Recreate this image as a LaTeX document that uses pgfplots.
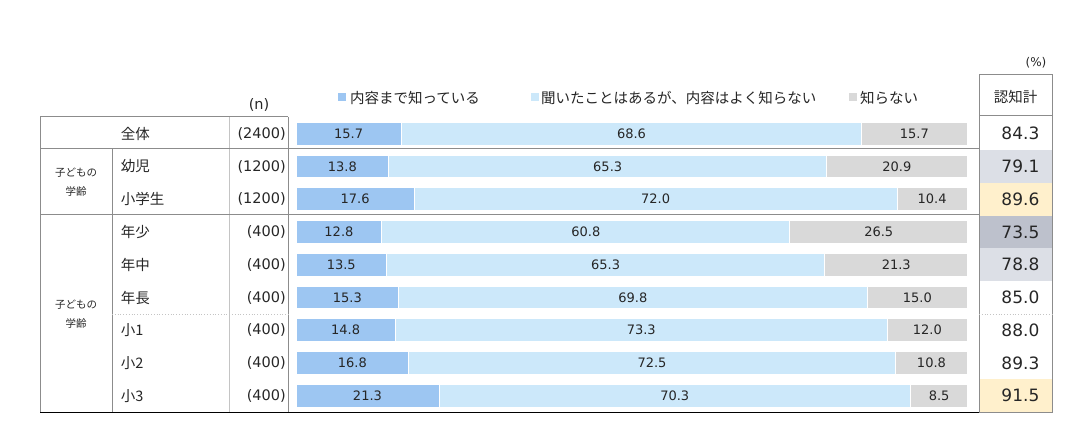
\documentclass[border=0pt]{standalone}
\usepackage{pgfplots}
\usepackage{pgfplotstable}
\pgfplotsset{compat=1.18}
\usepackage{fontspec}
\setmainfont{DejaVu Sans}
\newfontfamily\jp{Noto Sans CJK JP}

\definecolor{c1}{HTML}{9DC6F2}
\definecolor{c2}{HTML}{CCE8FA}
\definecolor{c3}{HTML}{D9D9D9}
\definecolor{g1}{HTML}{DCDFE6}
\definecolor{g2}{HTML}{BDC1CC}
\definecolor{yl}{HTML}{FFF0CC}
\definecolor{txt}{HTML}{262626}
\definecolor{ln}{HTML}{8C8C8C}
\definecolor{ln2}{HTML}{C4C4C4}

\newcommand\jpf{\jp\fontsize{14.5bp}{17bp}\selectfont}
\newcommand\jps{\jp\fontsize{10.5bp}{18.5bp}\selectfont}
\newcommand\numf{\fontsize{14.5bp}{17bp}\selectfont}

% r = row, a = 内容まで知っている, b = 聞いたことはあるが..., c = 知らない, t = 認知計
\pgfplotstableread{
r a b c t
1 15.7 68.6 15.7 84.3
2 13.8 65.3 20.9 79.1
3 17.6 72.0 10.4 89.6
4 12.8 60.8 26.5 73.5
5 13.5 65.3 21.3 78.8
6 15.3 69.8 15.0 85.0
7 14.8 73.3 12.0 88.0
8 16.8 72.5 10.8 89.3
9 21.3 70.3 8.5 91.5
}\data

\pgfplotsset{base/.style={at={(296bp,-117.3bp)}, anchor=north west,
  width=671bp, height=294.84bp, scale only axis,
  xmin=0, xmax=100, ymin=0.5, ymax=9.5, y dir=reverse,
  hide axis, clip=false},
  lab/.style={draw=none, nodes near coords, point meta=explicit symbolic,
  nodes near coords style={anchor=center, text=txt, font=\fontsize{13bp}{15bp}\selectfont}}}

\begin{document}
\begin{tikzpicture}[x=1bp,y=-1bp, t/.style={inner sep=0pt, text=txt}]
\path[use as bounding box] (0,0) rectangle (1076,433);

% 認知計 cell backgrounds
\fill[g1] (979,150.1) rectangle (1052,182.8);
\fill[yl] (979,182.8) rectangle (1052,215.6);
\fill[g2] (979,215.6) rectangle (1052,248.3);
\fill[g1] (979,248.3) rectangle (1052,281.1);
\fill[yl] (979,379.4) rectangle (1052,412.6);

% stacked bars
\begin{axis}[base, xbar stacked, bar width=22.7bp]
\addplot[fill=c1, draw=white, line width=0.8bp] table[x=a, y=r] \data;
\addplot[fill=c2, draw=white, line width=0.8bp] table[x=b, y=r] \data;
\addplot[fill=c3, draw=white, line width=0.8bp] table[x=c, y=r] \data;
\end{axis}

% value labels
\begin{axis}[base]
\addplot[lab] table[x expr=\thisrow{a}/2, y=r, meta=a] \data;
\addplot[lab] table[x expr=\thisrow{a}+\thisrow{b}/2, y=r, meta=b] \data;
\addplot[lab] table[x expr=\thisrow{a}+\thisrow{b}+\thisrow{c}/2, y=r, meta=c] \data;
\addplot[lab, nodes near coords style={anchor=east, font=\fontsize{17bp}{20bp}\selectfont}]
  table[x expr=111.3, y=r, meta=t] \data;
\end{axis}

% table lines
\draw[ln, line width=1bp] (40,117) -- (288,117);
\draw[ln, line width=1bp] (40,117) -- (40,413);
\draw[ln, line width=1bp] (288,117) -- (288,413);
\draw[ln2, line width=1bp] (229,117) -- (229,413);
\draw[ln, line width=1bp] (112,149) -- (112,413);
\draw[ln, line width=1bp] (40,149) -- (979,149);
\draw[ln, line width=1bp] (40,215) -- (979,215);
\draw[ln2, line width=0.8bp, dotted] (112,314) -- (288,314);
\draw[black, line width=1bp] (40,413) -- (979,413);
\draw[ln, line width=1bp] (979,75) rectangle (1052,413);
\draw[ln, line width=1bp] (979,115.5) -- (1052,115.5);
\draw[ln2, line width=0.8bp, dotted] (979,314) -- (1052,314);

% headers
\node[t, font=\jpf] at (1015.5,96.5) {認知計};
\node[t, font=\fontsize{12bp}{14bp}\selectfont] at (1036,63) {(\%)};
\node[t, font=\numf] at (259,105) {(n)};

% legend
\fill[c1] (338,93.5) rectangle (346,101.5);
\node[t, anchor=west, font=\jpf] at (350,97.7) {内容まで知っている};
\fill[c2] (531,93.5) rectangle (539,101.5);
\node[t, anchor=west, font=\jpf] at (541,97.7) {聞いたことはあるが、内容はよく知らない};
\fill[c3] (849,93.5) rectangle (857,101.5);
\node[t, anchor=west, font=\jpf] at (860,97.7) {知らない};

% row labels
\foreach \lab [count=\i] in {全体,幼児,小学生,年少,年中,年長,小1,小2,小3}
  \node[t, anchor=west, font=\jpf] at (120.7,{133.7+32.76*(\i-1)}) {\lab};
\foreach \n [count=\i] in {2400,1200,1200,400,400,400,400,400,400}
  \node[t, anchor=east, font=\numf] at (286,{133.7+32.76*(\i-1)}) {(\n)};
\node[t, font=\jps, align=center] at (76,182.3) {子どもの\\学齢};
\node[t, font=\jps, align=center] at (76,314) {子どもの\\学齢};
\end{tikzpicture}
\end{document}
